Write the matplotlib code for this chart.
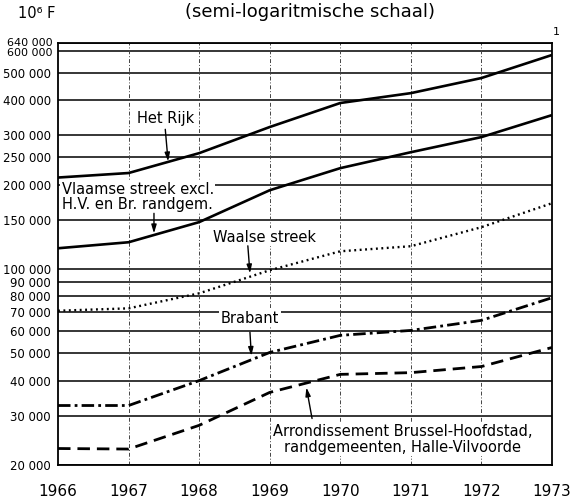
import matplotlib
matplotlib.use("Agg")
import matplotlib.pyplot as plt
from matplotlib.ticker import FixedLocator, NullLocator

years = [1966, 1967, 1968, 1969, 1970, 1971, 1972, 1973]
het_rijk = [212000, 220000, 259000, 321000, 391000, 424000, 480000, 580000]
vlaamse = [118600, 124600, 147000, 191000, 229000, 261000, 295500, 354000]
waalse = [71000, 72400, 81900, 99000, 115700, 120600, 141000, 171700]
brabant = [32600, 32600, 40000, 50400, 58000, 60400, 65600, 79000]
brussel = [22900, 22800, 27700, 36300, 42100, 42700, 44900, 52500]

ytick_vals = [640000, 600000, 500000, 400000, 300000, 250000, 200000, 150000,
              100000, 90000, 80000, 70000, 60000, 50000, 40000, 30000, 20000]
ytick_labels = ["640 000", "600 000", "500 000", "400 000", "300 000", "250 000",
                "200 000", "150 000", "100 000", "90 000", "80 000", "70 000",
                "60 000", "50 000", "40 000", "30 000", "20 000"]
year_labels = ["1966", "1967", "1968", "1969", "1970", "1971", "1972", "1973"]

plt.rcParams['font.family'] = ['DejaVu Sans']

fig = plt.figure(figsize=(5.7, 5.0), dpi=100)
ax = fig.add_axes([58/570, 35/500, 494/570, 422/500])
ax.set_yscale('log')
ax.set_xlim(1966, 1973)
ax.set_ylim(20000, 640000)

# grid
for v in ytick_vals:
    ax.axhline(v, color='black', lw=1.1, zorder=1)
for yr in years[1:-1]:
    ax.axvline(yr, color='#444444', lw=0.7, ls=(0, (4, 2, 1, 2)), zorder=1)

# y tick labels: the two top ones are drawn by hand so they do not collide
ax.yaxis.set_major_locator(FixedLocator(ytick_vals))
ax.yaxis.set_minor_locator(NullLocator())
lbls = [""] * 2 + ytick_labels[2:]
ax.set_yticklabels(lbls, fontsize=8.5)
ax.annotate(ytick_labels[0], xy=(0, ytick_vals[0]), xycoords=('axes fraction', 'data'),
            xytext=(-4, -2.4), textcoords='offset points', ha='right', va='baseline',
            fontsize=8, annotation_clip=False)
ax.annotate(ytick_labels[1], xy=(0, ytick_vals[1]), xycoords=('axes fraction', 'data'),
            xytext=(-4, 2.4), textcoords='offset points', ha='right', va='top',
            fontsize=8, annotation_clip=False)

ax.set_xticks(years)
ax.set_xticklabels(year_labels, fontsize=11)
ax.tick_params(axis='both', length=0)
ax.tick_params(axis='y', pad=5)
ax.tick_params(axis='x', pad=14)
for s in ax.spines.values():
    s.set_linewidth(1.3)

ax.plot(years, het_rijk, color='black', lw=1.9, solid_capstyle='butt', zorder=3)
ax.plot(years, vlaamse, color='black', lw=1.9, solid_capstyle='butt', zorder=3)
ax.plot(years, waalse, color='black', lw=1.7, ls=(0, (0.8, 1.5)), zorder=3)
ax.plot(years, brabant, color='black', lw=2.0, ls=(0, (4.5, 1.5, 1, 1.5)), zorder=3)
ax.plot(years, brussel, color='black', lw=2.0, ls=(0, (4.5, 2.5)), zorder=3)

bbox = dict(facecolor='white', edgecolor='none', pad=1.0)
tfs = 10.5
ax.text(1967.53, 345000, "Het Rijk", fontsize=tfs, ha='center', va='center', bbox=bbox, zorder=4)
ax.text(1966.05, 181000, "Vlaamse streek excl.\nH.V. en Br. randgem.", fontsize=tfs,
        ha='left', va='center', linespacing=1.0, bbox=bbox, zorder=4)
ax.text(1968.92, 130000, "Waalse streek", fontsize=tfs, ha='center', va='center', bbox=bbox, zorder=4)
ax.text(1968.72, 66700, "Brabant", fontsize=tfs, ha='center', va='center', bbox=bbox, zorder=4)
ax.text(1970.88, 24700, "Arrondissement Brussel-Hoofdstad,\nrandgemeenten, Halle-Vilvoorde",
        fontsize=tfs, ha='center', va='center', linespacing=1.05, bbox=bbox, zorder=4)

ap = dict(arrowstyle='-|>,head_length=0.5,head_width=0.15', color='black', lw=1.0,
          shrinkA=0, shrinkB=0)
ax.annotate("", xy=(1967.56, 242000), xytext=(1967.52, 315000), arrowprops=ap, zorder=5)
ax.annotate("", xy=(1967.36, 134000), xytext=(1967.36, 158000), arrowprops=ap, zorder=5)
ax.annotate("", xy=(1968.72, 96500), xytext=(1968.69, 121000), arrowprops=ap, zorder=5)
ax.annotate("", xy=(1968.74, 49000), xytext=(1968.72, 59500), arrowprops=ap, zorder=5)
ax.annotate("", xy=(1969.52, 37800), xytext=(1969.6, 29300), arrowprops=ap, zorder=5)

fig.text(18/570, 1 - 14/500, "10\u2076 F", fontsize=10.5, ha='left', va='center')
fig.text(310/570, 1 - 12/500, "(semi-logaritmische schaal)", fontsize=13, ha='center', va='center')
fig.text(556/570, 1 - 32/500, "1", fontsize=8, ha='center', va='center')

fig.savefig("out.png", dpi=100)
